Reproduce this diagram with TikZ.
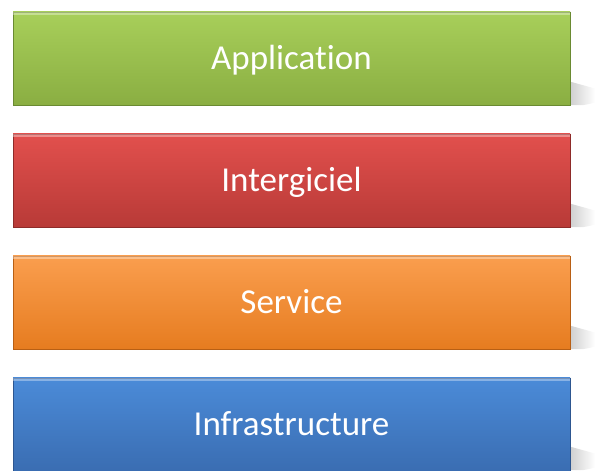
\documentclass[tikz,border=0pt]{standalone}
\usepackage{fontspec}
\setmainfont[Ligatures={NoCommon}]{Carlito}
\usetikzlibrary{positioning,fadings}

\definecolor{apptop}{HTML}{A8CF5A}
\definecolor{appbot}{HTML}{8AAE42}
\definecolor{appedge}{HTML}{6A8A32}
\definecolor{midtop}{HTML}{E2504D}
\definecolor{midbot}{HTML}{B83A37}
\definecolor{midedge}{HTML}{8E2B29}
\definecolor{svctop}{HTML}{FA9E4E}
\definecolor{svcbot}{HTML}{E67C20}
\definecolor{svcedge}{HTML}{B85F14}
\definecolor{inftop}{HTML}{4B8BD8}
\definecolor{infbot}{HTML}{3A6DB2}
\definecolor{infedge}{HTML}{2D5690}

\begin{document}
\begin{tikzpicture}[x=1pt,y=1pt]
\tikzset{ inner sep=0pt, outer sep=0pt,
  layer/.style={minimum width=557pt, minimum height=93pt, text=white,
    text height=22.5pt, text depth=0pt,
    font=\fontsize{35}{42}\selectfont},
  shade/.style={fill=black!22, path fading=east}
}

\useasboundingbox (0,0) rectangle (595,471);

% shadow at the right end, behind the layers
\foreach \y in {412.5,290.5,168.5,47.5}{
  \fill [shade] (566,\y-22) .. controls (580,\y-26) .. (595,\y-30)
     -- (595,\y-44) .. controls (584,\y-47) .. (568,\y-46.5) -- cycle;
}

% the four layers
\node [layer, top color=apptop, bottom color=appbot, draw=appedge] (app) at (291.5,412.5) {Application};
\node [layer, top color=midtop, bottom color=midbot, draw=midedge, below=29pt of app] (mid) {Intergiciel};
\node [layer, top color=svctop, bottom color=svcbot, draw=svcedge, below=29pt of mid] (svc) {Service};
\node [layer, top color=inftop, bottom color=infbot, draw=infedge, below=29pt of svc] (infra) {Infrastructure};

% bevel on top
\foreach \l in {app,mid,svc,infra}{
  \fill [white, opacity=0.35] ([yshift=-3pt]\l.north west) rectangle (\l.north east);
}

\end{tikzpicture}
\end{document}
